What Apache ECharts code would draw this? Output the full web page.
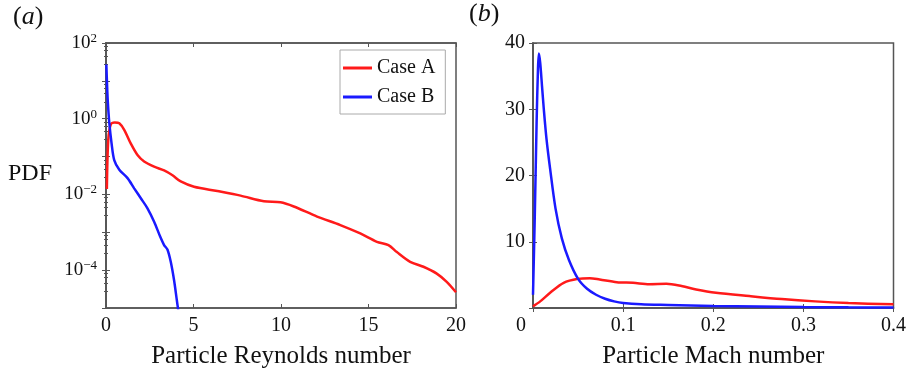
<!DOCTYPE html>
<html>
<head>
<meta charset="utf-8">
<script src="https://cdn.jsdelivr.net/npm/echarts@6/dist/echarts.min.js"></script>
<style>
html,body{margin:0;padding:0;background:#fff;}
#c{width:909px;height:374px;}
</style>
</head>
<body>
<div id="c"></div>
<script>
// ---- Data ----
const seriesNames = ['Case A', 'Case B'];

// Panel (a): Particle Reynolds number vs PDF (log scale)
const reA_x = [0.05, 0.13, 0.28, 0.5, 0.76, 1.04, 1.42, 1.8, 2.18, 2.75, 3.32, 3.8, 4.27, 5.03, 6.36, 7.69, 9.02, 9.97, 10.73, 12.06, 13.39, 14.53, 15.48, 16.14, 16.62, 17.38, 18.14, 18.9, 19.47, 20];
const reA_y = [0.014, 0.28, 0.72, 0.8, 0.76, 0.51, 0.22, 0.11, 0.074, 0.054, 0.043, 0.032, 0.022, 0.016, 0.0123, 0.0093, 0.0066, 0.0062, 0.0048, 0.0026, 0.00155, 0.00093, 0.00056, 0.00046, 0.0003, 0.000166, 0.000123, 0.000081, 0.000049, 0.000026];
const reB_x = [0.02, 0.06, 0.1, 0.19, 0.32, 0.47, 0.76, 1.23, 1.61, 1.99, 2.37, 2.75, 3.1, 3.32, 3.51, 3.7, 3.89, 4.05, 4.14];
const reB_y = [27, 8, 3, 0.76, 0.22, 0.081, 0.045, 0.027, 0.0145, 0.0079, 0.0043, 0.0019, 0.00076, 0.00046, 0.00035, 0.000166, 0.000054, 0.0000158, 0.000008];

// Panel (b): Particle Mach number vs PDF (linear)
const maA_x = [0, 0.008, 0.019, 0.034, 0.05, 0.063, 0.074, 0.093, 0.111, 0.129, 0.148, 0.162, 0.181, 0.203, 0.24, 0.276, 0.313, 0.35, 0.4];
const maA_y = [0.25, 1.0, 2.3, 3.8, 4.4, 4.5, 4.3, 3.9, 3.8, 3.6, 3.65, 3.4, 2.8, 2.3, 1.8, 1.35, 1.0, 0.75, 0.55];
const maB_x = [0, 0.002, 0.004, 0.0055, 0.0065, 0.008, 0.01, 0.012, 0.015, 0.019, 0.025, 0.032, 0.04, 0.05, 0.06, 0.07, 0.08, 0.09, 0.1, 0.12, 0.15, 0.2, 0.25, 0.3, 0.35, 0.4];
const maB_y = [2, 14, 28, 36, 38.4, 37, 33.5, 30, 25.5, 21, 15, 10.5, 7.2, 4.4, 2.9, 2.0, 1.4, 1.0, 0.75, 0.55, 0.45, 0.3, 0.22, 0.15, 0.1, 0.08];

// Tick labels
const reTicks = [0, 5, 10, 15, 20];
const logLabelExps = [2, 0, -2, -4];
const machTicks = [0, 0.1, 0.2, 0.3, 0.4];
const pdfTicks = [10, 20, 30, 40];

// Text
const xNameA = 'Particle Reynolds number';
const xNameB = 'Particle Mach number';
const yNameA = 'PDF';

// ---- Build ----
const pair = (xs, ys) => xs.map((x, i) => [x, ys[i]]);
const FONT = '"Liberation Serif", "Times New Roman", serif';
const FRAME = '#555555';
const RED = '#ff1a1a';
const BLUE = '#1a1aff';

const chart = echarts.init(document.getElementById('c'), null, {renderer: 'canvas'});

const axisLineStyle = {show: true, lineStyle: {color: FRAME, width: 1.5}};
const tickIn = {show: true, inside: true, length: 4, lineStyle: {color: FRAME, width: 1}};

function logLabel(v) {
  const e = Math.round(Math.log10(v));
  if (logLabelExps.indexOf(e) < 0) return '';
  const s = e < 0 ? '\u2212' + (-e) : String(e);
  return '{b|10}{s|' + s + '}';
}

const option = {
  backgroundColor: '#ffffff',
  animation: false,
  textStyle: {fontFamily: FONT},
  graphic: [
    {type: 'text', left: 13, top: 4, style: {text: '({i|a})', font: '26px ' + FONT, fill: '#111',
      rich: {i: {fontStyle: 'italic', fontSize: 26, fontFamily: FONT}}}},
    {type: 'text', left: 469, top: 1, style: {text: '({i|b})', font: '26px ' + FONT, fill: '#111',
      rich: {i: {fontStyle: 'italic', fontSize: 26, fontFamily: FONT}}}},
    {type: 'text', left: 8, top: 162, style: {text: yNameA, font: '24px ' + FONT, fill: '#111'}}
  ],
  legend: {
    data: seriesNames,
    orient: 'vertical',
    left: 340, top: 50,
    padding: [8, 10, 7, 3],
    itemGap: 9,
    icon: 'rect',
    itemWidth: 29, itemHeight: 3,
    backgroundColor: '#ffffff',
    borderColor: '#aaaaaa', borderWidth: 1,
    textStyle: {fontFamily: FONT, fontSize: 20, color: '#111', lineHeight: 20},
    selectedMode: false
  },
  grid: [
    {left: 106, right: 453, top: 43, bottom: 66, show: true, borderColor: FRAME, borderWidth: 1.5},
    {left: 533, right: 14, top: 43, bottom: 66, show: true, borderColor: FRAME, borderWidth: 1.5}
  ],
  xAxis: [
    {type: 'value', gridIndex: 0, min: reTicks[0], max: reTicks[reTicks.length - 1], interval: 5,
      name: xNameA, nameLocation: 'middle', nameGap: 36,
      nameTextStyle: {fontFamily: FONT, fontSize: 25, color: '#111'},
      axisLine: axisLineStyle, axisTick: tickIn, splitLine: {show: false},
      axisLabel: {fontFamily: FONT, fontSize: 20, color: '#111', margin: 8}},
    {type: 'value', gridIndex: 0, position: 'top', min: reTicks[0], max: reTicks[reTicks.length - 1], interval: 5,
      axisLine: axisLineStyle, axisTick: tickIn, axisLabel: {show: false}, splitLine: {show: false}},
    {type: 'value', gridIndex: 1, min: machTicks[0], max: machTicks[machTicks.length - 1], interval: 0.1,
      name: xNameB, nameLocation: 'middle', nameGap: 36,
      nameTextStyle: {fontFamily: FONT, fontSize: 25, color: '#111'},
      axisLine: axisLineStyle, axisTick: tickIn, splitLine: {show: false},
      axisLabel: {fontFamily: FONT, fontSize: 20, color: '#111', margin: 8,
        formatter: v => (v === 0 ? '{z|0}' : String(Math.round(v * 10) / 10)),
        rich: {z: {fontFamily: FONT, fontSize: 20, color: '#111', padding: [0, 24, 0, 0]}}}},
    {type: 'value', gridIndex: 1, position: 'top', min: machTicks[0], max: machTicks[machTicks.length - 1], interval: 0.1,
      axisLine: axisLineStyle, axisTick: tickIn, axisLabel: {show: false}, splitLine: {show: false}}
  ],
  yAxis: [
    {type: 'log', gridIndex: 0, logBase: 10, min: 1e-5, max: 1e2,
      axisLine: axisLineStyle, axisTick: tickIn, splitLine: {show: false},
      minorTick: {show: true, splitNumber: 5, length: 2, lineStyle: {color: FRAME}},
      axisLabel: {fontFamily: FONT, fontSize: 19, color: '#111', margin: 9, formatter: logLabel,
        rich: {b: {fontFamily: FONT, fontSize: 19, lineHeight: 22, color: '#111'},
               s: {fontFamily: FONT, fontSize: 13, lineHeight: 10, verticalAlign: 'top', color: '#111'}}}},
    {type: 'log', gridIndex: 0, logBase: 10, min: 1e-5, max: 1e2, position: 'right',
      axisLine: axisLineStyle, axisTick: tickIn, splitLine: {show: false},
      minorTick: {show: true, splitNumber: 5, length: 2, lineStyle: {color: FRAME}},
      axisLabel: {show: false}},
    {type: 'value', gridIndex: 1, min: 0, max: pdfTicks[pdfTicks.length - 1], interval: 10,
      axisLine: axisLineStyle, axisTick: tickIn, splitLine: {show: false},
      axisLabel: {fontFamily: FONT, fontSize: 20, color: '#111', margin: 8,
        formatter: v => (pdfTicks.indexOf(v) >= 0 ? String(v) : '')}},
    {type: 'value', gridIndex: 1, min: 0, max: pdfTicks[pdfTicks.length - 1], interval: 10, position: 'right',
      axisLine: axisLineStyle, axisTick: tickIn, splitLine: {show: false}, axisLabel: {show: false}}
  ],
  series: [
    {name: 'Case A', type: 'line', xAxisIndex: 0, yAxisIndex: 0, data: pair(reA_x, reA_y),
      smooth: 0.3, showSymbol: false, symbol: 'none', lineStyle: {color: RED, width: 2.5}, itemStyle: {color: RED}},
    {name: 'Case B', type: 'line', xAxisIndex: 0, yAxisIndex: 0, data: pair(reB_x, reB_y),
      smooth: 0.3, showSymbol: false, symbol: 'none', lineStyle: {color: BLUE, width: 2.5}, itemStyle: {color: BLUE}},
    {name: 'Case A', type: 'line', xAxisIndex: 2, yAxisIndex: 2, data: pair(maA_x, maA_y),
      smooth: 0.3, showSymbol: false, symbol: 'none', lineStyle: {color: RED, width: 2.5}, itemStyle: {color: RED}},
    {name: 'Case B', type: 'line', xAxisIndex: 2, yAxisIndex: 2, data: pair(maB_x, maB_y),
      smooth: 0.3, showSymbol: false, symbol: 'none', lineStyle: {color: BLUE, width: 2.5}, itemStyle: {color: BLUE}}
  ]
};
chart.setOption(option);
</script>
</body>
</html>
